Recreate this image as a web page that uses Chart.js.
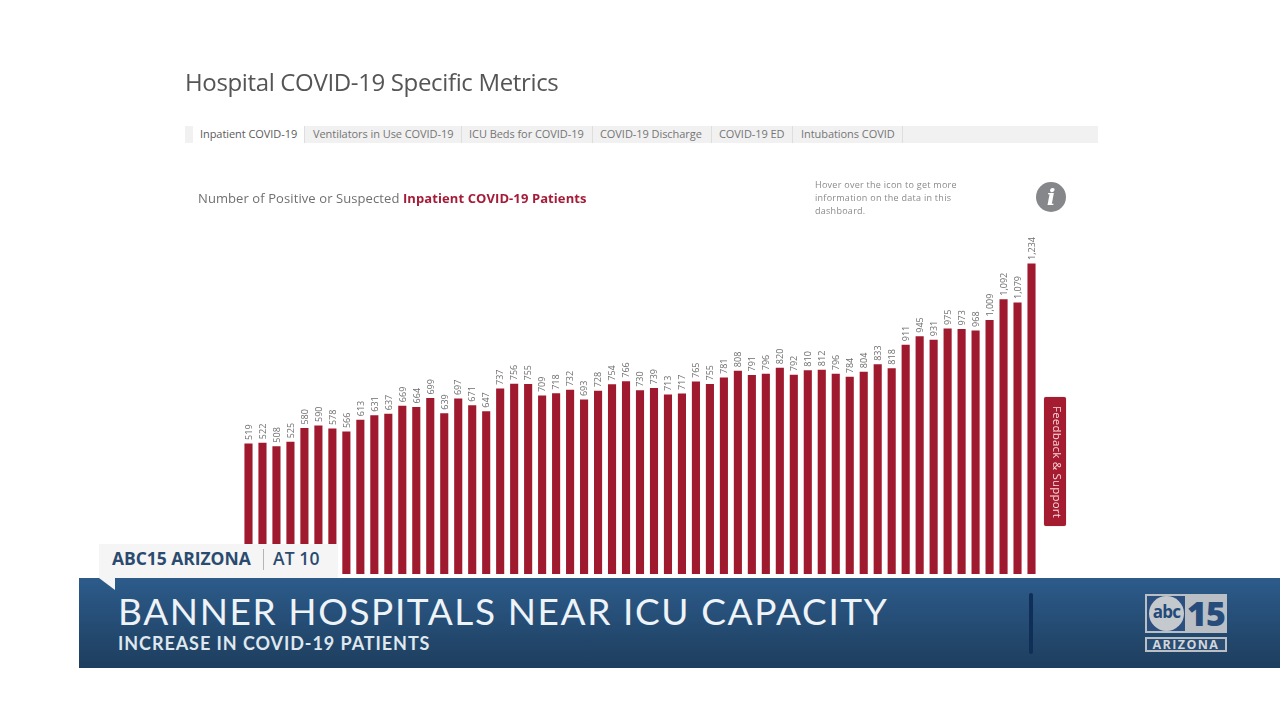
<!DOCTYPE html>
<html>
<head>
<meta charset="utf-8">
<script src="https://cdn.jsdelivr.net/npm/chart.js@4"></script>
<style>
html,body{margin:0;padding:0;background:#fff;overflow:hidden}
#stage{position:relative;width:1280px;height:720px;overflow:hidden;background:#fff;font-family:"Open Sans",sans-serif}
#stage div{position:absolute;white-space:nowrap}
canvas{position:absolute;left:0;top:0}
.tab{top:126px;height:17px;line-height:16px;font-size:11px;color:#757575;letter-spacing:-.06px}
.sep{top:126px;width:1px;height:17px;background:#dedede}
</style>
</head>
<body>
<div id="stage">
<canvas id="c" width="1280" height="720"></canvas>

<div style="left:185px;top:65px;font-size:24px;line-height:33px;color:#555;letter-spacing:-.35px">Hospital COVID-19 Specific Metrics</div>

<div style="left:185px;top:126px;width:913px;height:17px;background:#f1f1f1"></div>
<div style="left:193px;top:126px;width:111px;height:17px;background:#fff"></div>
<div class="sep" style="left:304px"></div><div class="sep" style="left:461px"></div><div class="sep" style="left:592px"></div><div class="sep" style="left:711px"></div><div class="sep" style="left:792px"></div><div class="sep" style="left:902px"></div>
<div class="tab" style="left:200px;color:#5c5c5c">Inpatient COVID-19</div>
<div class="tab" style="left:313px">Ventilators in Use COVID-19</div>
<div class="tab" style="left:469px">ICU Beds for COVID-19</div>
<div class="tab" style="left:600px">COVID-19 Discharge</div>
<div class="tab" style="left:719px">COVID-19 ED</div>
<div class="tab" style="left:801px">Intubations COVID</div>

<div style="left:198px;top:189px;font-size:13px;line-height:18px;color:#707070;letter-spacing:.09px">Number of Positive or Suspected <span style="color:#a51c38;font-weight:700">Inpatient COVID-19 Patients</span></div>
<div style="left:815px;top:178px;font-size:9px;line-height:13px;color:#8a8a8a;letter-spacing:.27px">Hover over the icon to get more<br>information on the data in this<br>dashboard.</div>
<div style="left:1036px;top:182px;width:30px;height:30px;border-radius:50%;background:#85878a;color:#fff;font:italic 700 23px/30px 'DejaVu Serif',serif;text-align:center">i</div>

<div style="left:1044px;top:397px;width:22px;height:129px;background:#a51c30;border-radius:2px;box-shadow:0 0 1px #888"></div>
<div style="left:1046px;top:397px;width:22px;height:129px;line-height:22px;writing-mode:vertical-rl;text-align:center;color:#f6d8dc;font-size:11.5px;font-weight:400;letter-spacing:.2px">Feedback &amp; Support</div>

<div style="left:99px;top:544px;width:239px;height:34px;background:#f5f5f5"></div>
<div style="left:112px;top:545px;font-size:17.5px;line-height:26px;font-weight:700;color:#2b4a6f;letter-spacing:-.05px">ABC15 ARIZONA</div>
<div style="left:263px;top:549px;width:1px;height:21px;background:#b5b5b5"></div>
<div style="left:273px;top:545px;font-size:17.5px;line-height:26px;font-weight:600;color:#2b4a6f;letter-spacing:.1px">AT 10</div>

<div style="left:79px;top:578px;width:1201px;height:90px;background:linear-gradient(#2c5b8b,#1e3e5e)"></div>
<div style="left:99px;top:578px;width:0;height:0;border-top:12px solid #f5f5f5;border-left:16px solid transparent"></div>
<div style="left:118px;top:588px;font-family:Lato,sans-serif;font-size:37px;line-height:46px;color:#eef3f8;letter-spacing:1.6px">BANNER HOSPITALS NEAR ICU CAPACITY</div>
<div style="left:118px;top:631px;font-family:Lato,sans-serif;font-size:18px;line-height:24px;font-weight:700;color:#dfe7ef;letter-spacing:.93px">INCREASE IN COVID-19 PATIENTS</div>
<div style="left:1029px;top:593px;width:4px;height:61px;background:#0f2f58;border-radius:2px"></div>

<div style="left:1145px;top:594px;width:82px;height:39px;background:#b9bfc5"></div>
<div style="left:1147px;top:596px;width:38px;height:35px;background:#2b5080"></div>
<div style="left:1149px;top:596px;width:35px;height:35px;border-radius:50%;background:#c4c9ce;color:#234a78;text-align:center;font:700 17px/32px 'Open Sans',sans-serif;letter-spacing:-.8px">abc</div>
<div style="left:1187px;top:590px;width:38px;text-align:center;color:#264c7c;font:800 34px/46px 'Open Sans',sans-serif;letter-spacing:-1px">15</div>
<div style="left:1145px;top:637px;width:78px;height:11px;border:2px solid #b9bfc5;background:#2a4d73"></div>
<div style="left:1145px;top:637px;width:82px;height:15px;line-height:15px;text-align:center;color:#d3d7db;font-size:12.5px;font-weight:700;letter-spacing:1.4px">ARIZONA</div>
</div>

<script>
const patients = [519,522,508,525,580,590,578,566,613,631,637,669,664,699,639,697,671,647,737,756,755,709,718,732,693,728,754,766,730,739,713,717,765,755,781,808,791,796,820,792,810,812,796,784,804,833,818,911,945,931,975,973,968,1009,1092,1079,1234];
const days = patients.map((_, i) => String(i + 1));
const barColor = '#9f1a2e';
const labelColor = '#6e6e6e';

const rotatedLabels = {
  id: 'rotatedLabels',
  afterDatasetsDraw(chart) {
    const ctx = chart.ctx;
    const bars = chart.getDatasetMeta(0).data;
    ctx.save();
    ctx.fillStyle = labelColor;
    ctx.font = '9px "Open Sans", sans-serif';
    ctx.textAlign = 'left';
    ctx.textBaseline = 'middle';
    bars.forEach((bar, i) => {
      ctx.save();
      ctx.translate(bar.x + 0.7, bar.y - 3.5);
      ctx.rotate(-Math.PI / 2);
      ctx.fillText(patients[i].toLocaleString('en-US'), 0, 0);
      ctx.restore();
    });
    ctx.restore();
  }
};

new Chart(document.getElementById('c'), {
  type: 'bar',
  data: {
    labels: days,
    datasets: [{ data: patients, backgroundColor: barColor, barPercentage: 0.58, categoryPercentage: 1 }]
  },
  options: {
    responsive: false,
    animation: false,
    layout: { padding: { left: 241.5, right: 241.5, top: 235, bottom: 146 } },
    plugins: { legend: { display: false }, tooltip: { enabled: false }, title: { display: false } },
    scales: {
      x: { display: false },
      y: { display: false, min: 0, max: 1347 }
    }
  },
  plugins: [rotatedLabels]
});
</script>
</body>
</html>
